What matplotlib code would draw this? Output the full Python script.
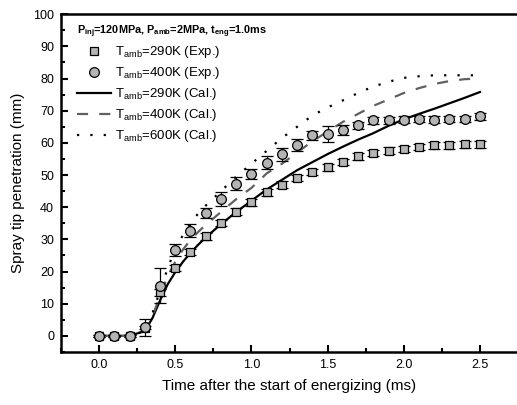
import numpy as np
import matplotlib
matplotlib.use('Agg')
import matplotlib.pyplot as plt
from matplotlib.lines import Line2D

plt.rcParams['font.family'] = ['Liberation Sans', 'DejaVu Sans']
plt.rcParams['mathtext.default'] = 'regular'

# experimental data (mm)
t_exp = [0.0, 0.1, 0.2, 0.3, 0.4, 0.5, 0.6, 0.7, 0.8, 0.9, 1.0, 1.1, 1.2,
         1.3, 1.4, 1.5, 1.6, 1.7, 1.8, 1.9, 2.0, 2.1, 2.2, 2.3, 2.4, 2.5]
s290_exp = [0, 0, 0, 2.5, 13.5, 21.1, 26.0, 30.9, 35.1, 38.6, 41.5, 44.6, 47.0,
            49.1, 50.9, 52.4, 54.0, 55.8, 56.8, 57.6, 58.1, 58.7, 59.2, 59.2, 59.5, 59.5]
e290_exp = [0.3, 0.3, 0.3, 0.5, 1.0, 1.0, 1.0, 1.0, 1.0, 1.0, 1.0, 1.0, 1.0,
            1.0, 1.0, 1.0, 1.0, 1.0, 1.0, 1.0, 1.0, 1.0, 1.0, 1.0, 1.0, 1.0]
s400_exp = [0, 0, 0, 2.6, 15.6, 26.7, 32.7, 38.2, 42.6, 47.3, 50.4, 53.8, 56.4,
            59.4, 62.3, 62.8, 63.9, 65.4, 67.0, 67.0, 67.2, 67.5, 67.2, 67.5, 67.5, 68.2]
e400_exp = [0.3, 0.3, 0.3, 2.6, 5.5, 2.0, 2.0, 1.5, 2.2, 2.0, 1.5, 2.0, 2.0,
            1.8, 1.5, 2.5, 1.5, 1.0, 1.0, 1.0, 1.0, 1.0, 1.0, 1.0, 1.0, 1.0]

# calculated curves
t_cal = [0.0, 0.1, 0.2, 0.3, 0.35, 0.4, 0.45, 0.5, 0.55, 0.6, 0.65, 0.7, 0.8, 0.9, 1.0,
         1.1, 1.2, 1.3, 1.4, 1.5, 1.6, 1.7, 1.8, 1.9, 2.0, 2.1, 2.2, 2.3, 2.4, 2.5]
s290_cal = [0, 0, 0, 1.5, 5.5, 11.0, 16.0, 19.8, 23.0, 25.8, 28.3, 30.6, 34.7, 38.5, 42.0,
            45.5, 48.5, 51.5, 54.0, 56.5, 58.8, 61.0, 63.0, 65.3, 67.3, 69.0, 70.6, 72.3, 74.0, 75.8]
s400_cal = [0, 0, 0, 1.5, 6.0, 12.5, 18.5, 23.0, 26.8, 29.8, 32.3, 34.5, 38.5, 42.5, 46.0,
            50.5, 53.5, 57.0, 60.5, 63.5, 66.5, 69.0, 71.5, 73.5, 75.5, 77.0, 78.3, 79.2, 79.8, 80.0]
s600_cal = [0, 0, 0, 1.5, 7.0, 14.0, 21.0, 27.0, 31.3, 35.0, 38.0, 40.5, 45.0, 49.5, 53.5,
            57.5, 61.5, 65.0, 68.5, 71.0, 73.2, 75.5, 77.5, 79.0, 80.2, 80.7, 81.0, 81.0, 81.0, 81.0]

labels = [r'T$_{amb}$=290K (Exp.)', r'T$_{amb}$=400K (Exp.)', r'T$_{amb}$=290K (Cal.)',
          r'T$_{amb}$=400K (Cal.)', r'T$_{amb}$=600K (Cal.)']

fig = plt.figure(figsize=(5.17, 4.05), dpi=100)
ax = fig.add_axes([0.118, 0.131, 0.884, 0.834])

grey = '#b4b4b4'
dash_c = '#606060'
ax.errorbar(t_exp, s290_exp, yerr=e290_exp, fmt='s', ms=6, mfc=grey, mec='black',
            mew=0.9, ecolor='black', elinewidth=0.9, capsize=4, capthick=0.9, zorder=4)
ax.errorbar(t_exp, s400_exp, yerr=e400_exp, fmt='o', ms=7, mfc=grey, mec='black',
            mew=0.9, ecolor='black', elinewidth=0.9, capsize=4, capthick=0.9, zorder=4)
ax.plot(t_cal, s290_cal, '-', color='black', lw=1.6, zorder=3)
ax.plot(t_cal, s400_cal, color=dash_c, lw=1.6, linestyle=(0, (5, 5)), zorder=3)
ax.plot(t_cal, s600_cal, color='black', lw=1.6, linestyle=(0, (1, 5)), zorder=3)

ax.set_xlim(-0.25, 2.75)
ax.set_ylim(-5, 100)
ax.set_xticks([0.0, 0.5, 1.0, 1.5, 2.0, 2.5])
ax.set_xticklabels(['0.0', '0.5', '1.0', '1.5', '2.0', '2.5'])
ax.set_xticks(np.arange(-0.25, 2.76, 0.25), minor=True)
ax.set_yticks(range(0, 101, 10))
ax.set_yticks(range(-5, 101, 5), minor=True)
ax.tick_params(which='both', direction='in', width=1.5, labelsize=9, top=False, right=False)
ax.tick_params(which='major', length=5, pad=5)
ax.tick_params(which='minor', length=3)
for sp in ax.spines.values():
    sp.set_linewidth(1.8)

ax.set_xlabel('Time after the start of energizing (ms)', fontsize=11, labelpad=6)
ax.set_ylabel('Spray tip penetration (mm)', fontsize=11, labelpad=6)

# legend: markers only for experiments
handles = [
    Line2D([], [], ls='none', marker='s', ms=6, mfc=grey, mec='black', mew=0.9),
    Line2D([], [], ls='none', marker='o', ms=7, mfc=grey, mec='black', mew=0.9),
    Line2D([], [], color='black', lw=1.6),
    Line2D([], [], color=dash_c, lw=1.6, linestyle=(0, (5, 5))),
    Line2D([], [], color='black', lw=1.6, linestyle=(0, (1, 5))),
]
leg = ax.legend(handles, labels, loc='upper left', bbox_to_anchor=(0.035, 0.972),
                frameon=False, fontsize=9.5,
                handlelength=2.6, handletextpad=0.3, labelspacing=0.38,
                borderaxespad=0.0, borderpad=0.0,
                title=r'P$_{inj}$=120MPa, P$_{amb}$=2MPa, t$_{eng}$=1.0ms',
                title_fontproperties={'size': 7.8, 'weight': 'bold'})
leg._legend_box.align = 'left'
leg._legend_box.sep = 3

fig.savefig('out.png', dpi=100)
